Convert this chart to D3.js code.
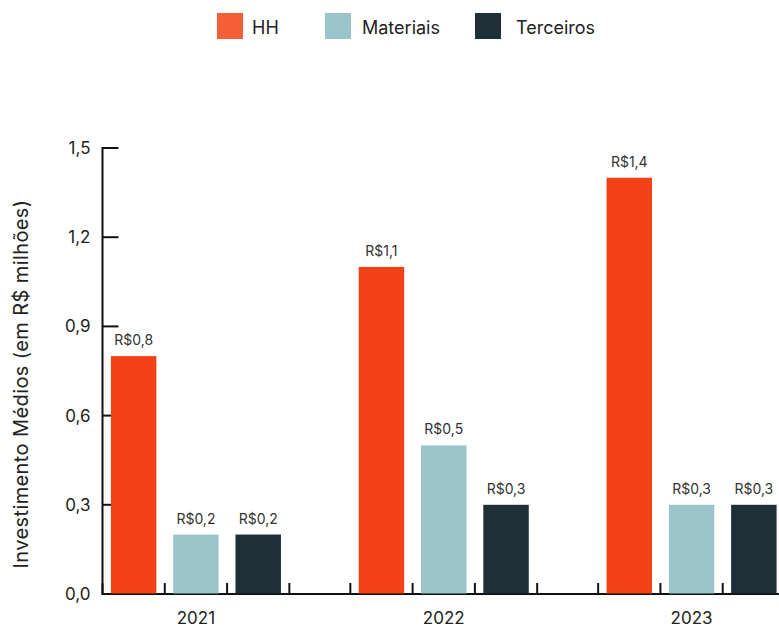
<!DOCTYPE html>
<html>
<head>
<meta charset="utf-8">
<script src="https://cdn.jsdelivr.net/npm/d3@7"></script>
<style>
  html, body { margin: 0; padding: 0; background: #fff; }
  svg { display: block; font-family: Inter, "Noto Sans", sans-serif; }
</style>
</head>
<body>
<svg id="chart" width="779" height="629"></svg>
<script>
const years = ["2021", "2022", "2023"];
const seriesNames = ["HH", "Materiais", "Terceiros"];
const hhValues = [0.8, 1.1, 1.4];
const materiaisValues = [0.2, 0.5, 0.3];
const terceirosValues = [0.2, 0.3, 0.3];
const valueLabels = {
  HH: ["R$0,8", "R$1,1", "R$1,4"],
  Materiais: ["R$0,2", "R$0,5", "R$0,3"],
  Terceiros: ["R$0,2", "R$0,3", "R$0,3"]
};
const yTicks = [0, 0.3, 0.6, 0.9, 1.2, 1.5];
const yTickLabels = ["0,0", "0,3", "0,6", "0,9", "1,2", "1,5"];
const barColors = ["#F44218", "#9CC5C9", "#1E2F38"];
const legendColors = ["#F45F38", "#9CC5C9", "#1E2F38"];

const seriesValues = [hhValues, materiaisValues, terceirosValues];
const data = years.map((y, i) => ({
  year: y,
  values: seriesNames.map((s, j) => ({ series: s, value: seriesValues[j][i], label: valueLabels[s][i], idx: j }))
}));

const svg = d3.select("#chart");
const axisX = 102.5, baseY = 594, topY = 148;

const y = d3.scaleLinear().domain([0, 1.5]).range([baseY, topY]);
const x0 = d3.scaleBand().domain(years).range([axisX, 785]).paddingInner(0.246).paddingOuter(0);
const x1 = d3.scaleBand().domain(seriesNames).range([0, x0.bandwidth()]).paddingInner(0.27).paddingOuter(0.135);
const color = d3.scaleOrdinal().domain(seriesNames).range(barColors);

// Y axis
const yAxis = d3.axisLeft(y).tickValues(yTicks).tickSize(0).tickFormat((d, i) => yTickLabels[i]);
const yg = svg.append("g").attr("transform", `translate(${axisX},0)`).call(yAxis);
yg.select(".domain").remove();
yg.selectAll("text").attr("x", -12).attr("font-size", 17).attr("fill", "#222").style("font-family", "Inter, 'Noto Sans', sans-serif");
svg.append("line").attr("x1", axisX).attr("x2", axisX).attr("y1", topY - 1).attr("y2", baseY + 1)
  .attr("stroke", "#111").attr("stroke-width", 2);
svg.selectAll(".ytick").data(yTicks).enter().append("line")
  .attr("x1", axisX).attr("x2", axisX + 16)
  .attr("y1", d => y(d)).attr("y2", d => y(d))
  .attr("stroke", "#111").attr("stroke-width", 2);

// X baseline
svg.append("line").attr("x1", axisX).attr("x2", 779).attr("y1", baseY).attr("y2", baseY)
  .attr("stroke", "#111").attr("stroke-width", 2);

// X ticks at sub-band boundaries
const tickPositions = [];
years.forEach(yr => {
  const g0 = x0(yr);
  for (let k = 0; k <= seriesNames.length; k++) tickPositions.push(g0 + k * x0.bandwidth() / seriesNames.length);
});
svg.selectAll(".xtick").data(tickPositions).enter().append("line")
  .attr("x1", d => d).attr("x2", d => d).attr("y1", baseY).attr("y2", baseY - 11)
  .attr("stroke", "#111").attr("stroke-width", 2);

// Bars
const groups = svg.selectAll(".grp").data(data).enter().append("g")
  .attr("transform", d => `translate(${x0(d.year)},0)`);
groups.selectAll("rect").data(d => d.values).enter().append("rect")
  .attr("x", d => x1(d.series)).attr("width", x1.bandwidth())
  .attr("y", d => y(d.value)).attr("height", d => y(0) - y(d.value) - 0.5)
  .attr("fill", d => color(d.series));
groups.selectAll(".vl").data(d => d.values).enter().append("text")
  .attr("x", d => x1(d.series) + x1.bandwidth() / 2)
  .attr("y", d => y(d.value) - 11)
  .attr("text-anchor", "middle").attr("font-size", 14).attr("fill", "#333")
  .text(d => d.label);

// Year labels
svg.selectAll(".yl").data(years).enter().append("text")
  .attr("x", d => x0(d) + x0.bandwidth() / 2).attr("y", 624)
  .attr("text-anchor", "middle").attr("font-size", 17).attr("fill", "#222")
  .text(d => d);

// Y axis title
svg.append("text").attr("transform", "translate(28,384) rotate(-90)")
  .attr("text-anchor", "middle").attr("font-size", 20).attr("letter-spacing", 0.4).attr("fill", "#222")
  .text("Investimento Médios (em R$ milhões)");

// Legend
const legendX = [217, 325, 475];
const lg = svg.selectAll(".lg").data(seriesNames).enter().append("g")
  .attr("transform", (d, i) => `translate(${legendX[i]},13)`);
lg.append("rect").attr("width", 26).attr("height", 26).attr("fill", (d, i) => legendColors[i]);
lg.append("text").attr("x", (d, i) => [35, 37, 41][i]).attr("y", 21).attr("font-size", 18).attr("fill", "#222").text(d => d);
</script>
</body>
</html>
